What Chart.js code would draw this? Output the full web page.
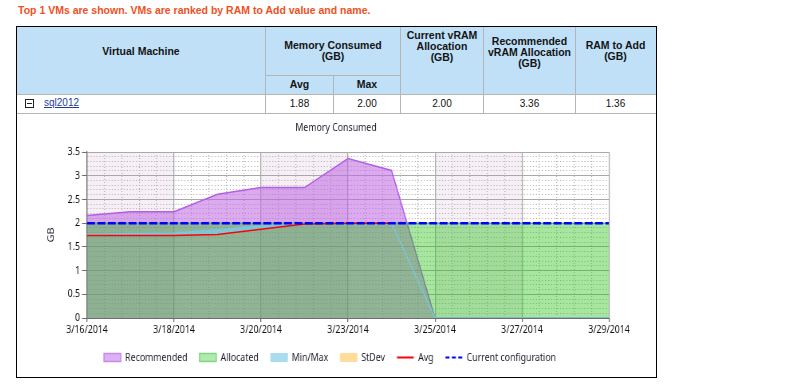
<!DOCTYPE html>
<html>
<head>
<meta charset="utf-8">
<script src="https://cdn.jsdelivr.net/npm/chart.js@4.4.1/dist/chart.umd.min.js"></script>
<style>
  body { margin: 0; background: #fff; width: 797px; height: 385px; overflow: hidden; position: relative; }
  .abs { position: absolute; }
  .note { left: 18px; top: 3px; font: bold 10.5px "Liberation Sans", Arial, sans-serif; line-height: 14px; color: #ef5023; white-space: nowrap; }
  .box { left: 16px; top: 26px; width: 639px; height: 350px; border: 1px solid #000; }
  .head { left: 17px; top: 27px; width: 639px; height: 67px; background: #bfe0f7; }
  .vl { width: 1px; background: #b5b5b5; }
  .hl { height: 1px; background: #b5b5b5; }
  .th { font: bold 10.5px "Liberation Sans", Arial, sans-serif; line-height: 11px; color: #141414; text-align: center; white-space: nowrap; }
  .td { font: 10px "Liberation Sans", Arial, sans-serif; line-height: 12px; color: #111; text-align: center; white-space: nowrap; }
  .vm { left: 44px; top: 97px; font: 10px "Liberation Sans", Arial, sans-serif; line-height: 12px; color: #1e3c9c; text-decoration: underline; }
  .minus { left: 25px; top: 99px; width: 7px; height: 7px; border: 1px solid #222; background: #fff; }
  .minus::after { content: ""; position: absolute; left: 1px; top: 3px; width: 5px; height: 1px; background: #222; }
  .chartwrap { left: 17px; top: 114px; width: 800px; height: 262px; transform: scaleX(0.7975); transform-origin: 0 0; }
</style>
</head>
<body>
<div class="abs note">Top 1 VMs are shown. VMs are ranked by RAM to Add value and name.</div>
<div class="abs box"></div>
<div class="abs head"></div>

<div class="abs vl" style="left:265px;top:27px;height:87px"></div>
<div class="abs vl" style="left:333px;top:76px;height:38px"></div>
<div class="abs vl" style="left:400px;top:27px;height:87px"></div>
<div class="abs vl" style="left:483px;top:27px;height:87px"></div>
<div class="abs vl" style="left:575px;top:27px;height:87px"></div>
<div class="abs hl" style="left:266px;top:75px;width:134px"></div>
<div class="abs hl" style="left:17px;top:94px;width:639px"></div>
<div class="abs hl" style="left:17px;top:113px;width:639px"></div>

<div class="abs th" style="left:17px;width:248px;top:46px">Virtual Machine</div>
<div class="abs th" style="left:266px;width:134px;top:39.5px">Memory Consumed<br>(GB)</div>
<div class="abs th" style="left:266px;width:67px;top:79px">Avg</div>
<div class="abs th" style="left:334px;width:66px;top:79px">Max</div>
<div class="abs th" style="left:401px;width:82px;top:29.5px">Current vRAM<br>Allocation<br>(GB)</div>
<div class="abs th" style="left:484px;width:91px;top:35.5px">Recommended<br>vRAM Allocation<br>(GB)</div>
<div class="abs th" style="left:576px;width:79px;top:39.5px">RAM to Add<br>(GB)</div>

<div class="abs minus"></div>
<div class="abs vm">sql2012</div>
<div class="abs td" style="left:266px;width:67px;top:97.5px">1.88</div>
<div class="abs td" style="left:334px;width:66px;top:97.5px">2.00</div>
<div class="abs td" style="left:401px;width:82px;top:97.5px">2.00</div>
<div class="abs td" style="left:484px;width:91px;top:97.5px">3.36</div>
<div class="abs td" style="left:576px;width:79px;top:97.5px">1.36</div>

<div class="abs chartwrap"><canvas id="memChart" width="800" height="262"></canvas></div>

<script>
const dates = [
  "3/16/2014", "3/17/2014", "3/18/2014", "3/19/2014", "3/20/2014", "3/21/2014", "3/23/2014",
  "3/24/2014", "3/25/2014", "3/26/2014", "3/27/2014", "3/28/2014", "3/29/2014",
];
const recommendedGB = [2.16, 2.24, 2.24, 2.61, 2.75, 2.75, 3.36, 3.11, 0, 0, 0, 0, 0];
const allocatedGB = [2, 2, 2, 2, 2, 2, 2, 2, 2, 2, 2, 2, 2];
const maxGB = [1.76, 1.78, 1.79, 1.86, 1.94, 2.0, 2.0, 2.0, 0, 0, 0, 0, 0];
const minGB = [1.74, 1.74, 1.74, 1.76, 1.87, 1.98, 2.0, 2.0, 0, 0, 0, 0, 0];
const avgGB = [1.74, 1.74, 1.74, 1.76, 1.87, 1.98, 2.0, 2.0, null, null, null, null, null];
const stdevGB = [];
const currentConfigGB = [2, 2, 2, 2, 2, 2, 2, 2, 2, 2, 2, 2, 2];

const yMax = 3.5;
const yMajor = 0.5;
const yMinor = 0.1;
const xMajor = 2;
const xMinor = 0.4;

const FONT = "'Noto Sans', 'Open Sans', sans-serif";
const TEXT = "#1c1c2c";

function toPoints(values) {
  return values.map((v, i) => ({ x: i, y: v }));
}

function isMultiple(v, step) {
  return Math.abs(v / step - Math.round(v / step)) < 1e-6;
}

// legend boxes are drawn a bit differently from the series themselves
const legendLook = {
  Recommended: { pointStyle: "rect", fillStyle: "#dcb0f4", strokeStyle: "#c68ae9", lineWidth: 1.5 },
  Allocated: { pointStyle: "rect", fillStyle: "#b0eab0", strokeStyle: "#7fd77f", lineWidth: 1.5 },
  "Min/Max": { pointStyle: "rect", fillStyle: "#a8dcee", strokeStyle: "#a8dcee", lineWidth: 1 },
  StDev: { pointStyle: "rect", fillStyle: "#ffdc9c", strokeStyle: "#ffdc9c", lineWidth: 1 },
  Avg: { pointStyle: "line", strokeStyle: "#ff0000", lineWidth: 2, lineDash: [] },
  "Current configuration": { pointStyle: "line", strokeStyle: "#0000ff", lineWidth: 2, lineDash: [5, 3] },
};

const bandPlugin = {
  id: "bands",
  afterLayout(chart) {
    // legend sits a little left of centre in the original
    chart.legend.left -= 7.5;
    chart.legend.right -= 7.5;
  },
  beforeDraw(chart) {
    const { ctx, chartArea, scales } = chart;
    const x = scales.x;
    ctx.save();
    ctx.fillStyle = "#f6eff6";
    for (let i = 0; i + xMajor < dates.length; i += xMajor * 2) {
      const l = x.getPixelForValue(i);
      const r = x.getPixelForValue(i + xMajor);
      ctx.fillRect(l, chartArea.top, r - l, chartArea.bottom - chartArea.top);
    }
    ctx.restore();
  },
};

Chart.defaults.font.family = FONT;
Chart.defaults.font.size = 11;
Chart.defaults.color = TEXT;

new Chart(document.getElementById("memChart"), {
  type: "line",
  data: {
    datasets: [
      {
        label: "Recommended",
        data: toPoints(recommendedGB),
        order: 7,
        fill: "origin",
        backgroundColor: "rgba(190,100,225,0.55)",
        borderColor: "#b45ee6",
        borderWidth: 1.5,
      },
      {
        label: "Allocated",
        data: toPoints(allocatedGB),
        order: 6,
        fill: "origin",
        backgroundColor: "rgba(38,194,23,0.41)",
        borderColor: "#4fc34f",
        borderWidth: 1,
      },
      {
        label: "Min/Max",
        data: toPoints(maxGB),
        order: 5,
        fill: 6,
        backgroundColor: "rgba(120,205,232,0.75)",
        borderColor: "#7cc4e0",
        borderWidth: 1.5,
      },
      {
        label: "StDev",
        data: toPoints(stdevGB),
        order: 4,
        fill: false,
        backgroundColor: "#ffdc9c",
        borderColor: "#ffdc9c",
        borderWidth: 1,
      },
      {
        label: "Avg",
        data: toPoints(avgGB),
        order: 2,
        fill: false,
        borderColor: "#ff0000",
        borderWidth: 1.5,
      },
      {
        label: "Current configuration",
        data: toPoints(currentConfigGB),
        order: 1,
        fill: false,
        borderColor: "#0000ff",
        borderWidth: 2.5,
        borderDash: [10, 3],
      },
      {
        label: "Min",
        helper: true,
        data: toPoints(minGB),
        order: 5.5,
        fill: false,
        borderColor: "transparent",
        borderWidth: 0,
      },
    ],
  },
  options: {
    responsive: false,
    animation: false,
    events: [],
    layout: { padding: { left: 0, right: 0, top: 0, bottom: 3 } },
    elements: {
      point: { radius: 0 },
      line: { tension: 0 },
    },
    plugins: {
      title: {
        display: true,
        text: "Memory Consumed",
        color: TEXT,
        font: { family: FONT, size: 11, weight: "normal" },
        padding: { top: 7.4, bottom: 17.4 },
      },
      legend: {
        position: "bottom",
        labels: {
          usePointStyle: true,
          pointStyleWidth: 21,
          boxHeight: 8,
          padding: 15,
          color: TEXT,
          font: { family: FONT, size: 11 },
          filter: (item, data) => !data.datasets[item.datasetIndex].helper,
          sort: (a, b) => a.datasetIndex - b.datasetIndex,
          generateLabels(chart) {
            const items = Chart.defaults.plugins.legend.labels.generateLabels(chart);
            items.forEach((item) => {
              Object.assign(item, legendLook[item.text] || {});
            });
            return items;
          },
        },
      },
      tooltip: { enabled: false },
    },
    scales: {
      x: {
        type: "linear",
        min: 0,
        max: dates.length - 1,
        ticks: {
          stepSize: xMinor,
          autoSkip: false,
          maxRotation: 0,
          padding: 1,
          color: "#111",
          callback: (v) => (isMultiple(v, xMajor) ? dates[Math.round(v)] : ""),
        },
        grid: {
          color: (c) => (isMultiple(c.tick.value, xMajor) ? "#a9a9a9" : "#b4b4b4"),
          lineWidth: 1.25,
          tickLength: 4,
          tickWidth: 1.25,
          tickColor: (c) => (isMultiple(c.tick.value, xMajor) ? "#6e6e6e" : "rgba(0,0,0,0)"),
        },
        border: {
          color: "#6e6e6e",
          width: 1,
          dash: (c) => (c.tick && !isMultiple(c.tick.value, xMajor) ? [1, 2] : []),
        },
        afterFit: (s) => {
          s.height = 19;
        },
      },
      y: {
        min: 0,
        max: yMax,
        ticks: {
          stepSize: yMinor,
          autoSkip: false,
          padding: 2.5,
          color: "#111",
          callback: (v) => (isMultiple(v, yMajor) ? String(+v.toFixed(1)) : ""),
        },
        grid: {
          color: (c) => (isMultiple(c.tick.value, yMajor) ? "#a9a9a9" : "#b4b4b4"),
          lineWidth: 1,
          tickLength: 6.3,
          tickColor: (c) => (isMultiple(c.tick.value, yMajor) ? "#6e6e6e" : "rgba(0,0,0,0)"),
        },
        border: {
          color: "#6e6e6e",
          width: 1.25,
          dash: (c) => (c.tick && !isMultiple(c.tick.value, yMajor) ? [1.3, 2.5] : []),
        },
        title: {
          display: true,
          text: "GB",
          color: TEXT,
          font: { family: FONT, size: 11 },
          padding: { top: 36, bottom: 0 },
        },
        afterFit: (s) => {
          s.width = 87.8;
        },
      },
      pad: {
        axis: "y",
        position: "right",
        display: true,
        grid: { display: false },
        ticks: { display: false },
        border: { display: false },
        afterFit: (s) => {
          s.width = 57.7;
        },
      },
    },
  },
  plugins: [bandPlugin],
});
</script>
</body>
</html>
